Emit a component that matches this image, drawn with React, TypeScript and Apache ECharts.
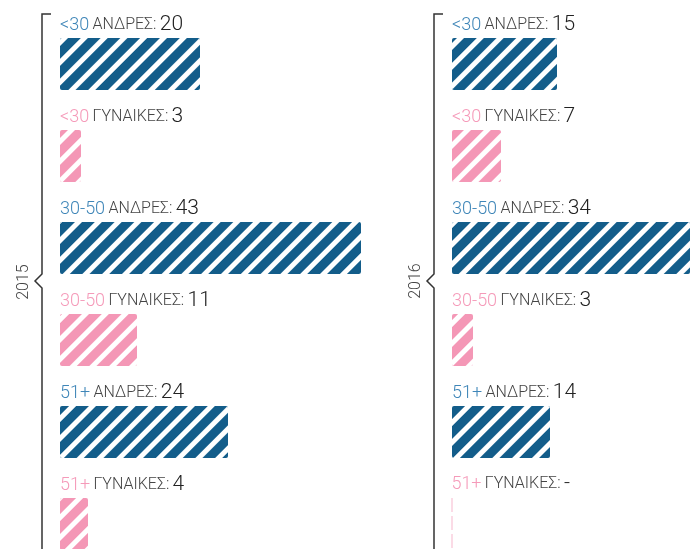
import React, { useEffect, useRef } from "react";
import * as echarts from "echarts";

const ageGroups = ["<30", "<30", "30-50", "30-50", "51+", "51+"];
const genders = ["ΑΝΔΡΕΣ", "ΓΥΝΑΙΚΕΣ", "ΑΝΔΡΕΣ", "ΓΥΝΑΙΚΕΣ", "ΑΝΔΡΕΣ", "ΓΥΝΑΙΚΕΣ"];
const categories = ageGroups.map((a, i) => a + " " + genders[i]);
const years = ["2015", "2016"];
const values2015: (number | null)[] = [20, 3, 43, 11, 24, 4];
const values2016: (number | null)[] = [15, 7, 34, 3, 14, null];

const BLUE = "#135d8a";
const PINK = "#f497b6";
const BLUE_TXT = "#3f86b8";
const PINK_TXT = "#f59ab9";

function buildData(vals: (number | null)[]) {
  return vals.map((v, i) => {
    const isMale = i % 2 === 0;
    const color = isMale ? BLUE : PINK;
    if (v === null) {
      return {
        value: 0,
        raw: null,
        idx: i,
        itemStyle: {
          color: "rgba(0,0,0,0)",
          borderColor: "#f9c4d6",
          borderWidth: 1.2,
          borderType: [9, 9],
          decal: null,
        },
      };
    }
    return {
      value: v,
      raw: v,
      idx: i,
      itemStyle: {
        color,
        borderRadius: 2,
        decal: {
          symbol: "rect",
          symbolSize: 1,
          dashArrayX: [1, 0],
          dashArrayY: [4.5, 9],
          rotation: -Math.PI / 4,
          color: "#ffffff",
        },
      },
    };
  });
}

function labelFormatter(p: any) {
  const i = p.data.idx;
  const isMale = i % 2 === 0;
  const val = p.data.raw === null ? "-" : String(p.data.raw);
  return `{${isMale ? "pm" : "pf"}|${ageGroups[i]}} {g|${genders[i]}:} {v|${val}}`;
}

const rich = {
  pm: { fontFamily: "Roboto", fontWeight: 300, fontSize: 18, color: BLUE_TXT, lineHeight: 22 },
  pf: { fontFamily: "Roboto", fontWeight: 300, fontSize: 18, color: PINK_TXT, lineHeight: 22 },
  g: { fontFamily: "Roboto", fontWeight: 300, fontSize: 16, color: "#444", lineHeight: 22 },
  v: { fontFamily: "Roboto", fontWeight: 300, fontSize: 21, color: "#222", lineHeight: 22 },
};

export default function App() {
  const ref = useRef<HTMLDivElement>(null);
  useEffect(() => {
    document.body.style.margin = "0";
    const chart = echarts.init(ref.current!, undefined, { renderer: "svg" });
    const grids = [
      { left: 60, top: 64, width: 350, height: 460 },
      { left: 452, top: 64, width: 238, height: 460 },
    ];
    const maxes = [50, 34];
    const allVals = [values2015, values2016];
    const option: any = {
      animation: false,
      grid: grids,
      xAxis: grids.map((_, k) => ({
        type: "value",
        gridIndex: k,
        min: 0,
        max: maxes[k],
        show: false,
      })),
      yAxis: grids.map((_, k) => ({
        type: "category",
        gridIndex: k,
        data: categories,
        inverse: true,
        boundaryGap: false,
        show: false,
      })),
      series: years.map((y, k) => ({
        type: "bar",
        name: y,
        xAxisIndex: k,
        yAxisIndex: k,
        barWidth: 52,
        clip: false,
        data: buildData(allVals[k]),
        label: {
          show: true,
          position: [0, -4],
          align: "left",
          verticalAlign: "bottom",
          formatter: labelFormatter,
          rich,
        },
      })),
      graphic: [
        {
          type: "polyline",
          shape: { points: [[51, 14], [42, 14], [42, 274], [35, 281], [42, 288], [42, 552]] },
          style: { stroke: "#333", lineWidth: 1.5, fill: null },
        },
        {
          type: "polyline",
          shape: { points: [[443, 14], [434, 14], [434, 274], [427, 281], [434, 288], [434, 552]] },
          style: { stroke: "#333", lineWidth: 1.5, fill: null },
        },
        {
          type: "text",
          x: 22,
          y: 282,
          rotation: Math.PI / 2,
          style: {
            text: years[0],
            fontFamily: "Roboto",
            fontWeight: 300,
            fontSize: 16,
            fill: "#444",
            align: "center",
            verticalAlign: "middle",
          },
        },
        {
          type: "text",
          x: 414,
          y: 281,
          rotation: Math.PI / 2,
          style: {
            text: years[1],
            fontFamily: "Roboto",
            fontWeight: 300,
            fontSize: 16,
            fill: "#444",
            align: "center",
            verticalAlign: "middle",
          },
        },
      ],
    };
    chart.setOption(option);
    return () => chart.dispose();
  }, []);
  return <div ref={ref} style={{ position: "fixed", left: 0, top: 0, width: 690, height: 549 }} />;
}
